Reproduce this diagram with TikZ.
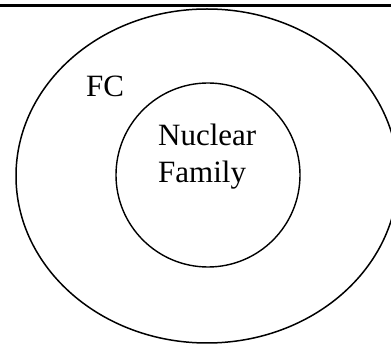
\documentclass[tikz,border=0pt]{standalone}
\usepackage{fontspec}
\setmainfont{Liberation Serif}
\usetikzlibrary{positioning}

\begin{document}
\begin{tikzpicture}[x=1pt,y=-1pt,
	label text/.style={font=\fontsize{31}{37}\selectfont,inner sep=0pt,align=left}]
	\useasboundingbox (0,0) rectangle (391,344);
	\draw[line width=2.8pt] (0,5.5) -- (391,5.5);
	\draw[line width=1.5pt] (207,176) ellipse [x radius=191,y radius=167];
	\draw[line width=1.4pt] (208,175) circle [radius=92];
	\node[label text,anchor=base west] (fc) at (86,97) {FC};
	\node[label text,anchor=base west] (nuclear) at (158,146) {Nuclear};
	\node[label text,anchor=base west] (family) at (158,183) {Family};
\end{tikzpicture}
\end{document}
